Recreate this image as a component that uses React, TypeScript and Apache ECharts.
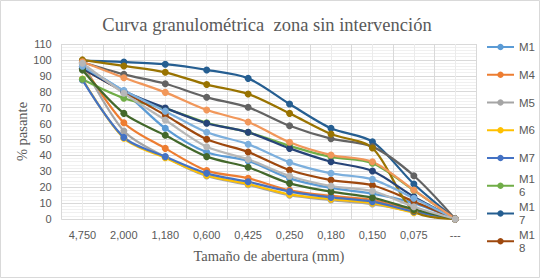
import React, { useEffect, useRef } from "react";
import * as echarts from "echarts";

const categories = ["4,750", "2,000", "1,180", "0,600", "0,425", "0,250", "0,180", "0,150", "0,075", "---"];

const seriesNames = ["M1", "M4", "M5", "M6", "M7", "M16", "M17", "M18", "M19", "M20", "M21", "M22", "M23", "M24", "M25"];
const legendNames = ["M1", "M4", "M5", "M6", "M7", "M16", "M17", "M18"];
const seriesColors = [
  "#5B9BD5", "#ED7D31", "#A5A5A5", "#FFC000", "#4472C4", "#70AD47", "#255E91", "#9E480E",
  "#636363", "#997300", "#264478", "#43682B", "#7CAFDD", "#F1975A", "#B7B7B7",
];

const m1 = [96, 80, 57, 42, 36.5, 25.5, 19.5, 16, 10, 0];
const m4 = [97, 60.5, 44.4, 30.4, 25.6, 18, 14.5, 12, 5, 0];
const m5 = [97.5, 55.3, 39, 27, 21.5, 15, 11.9, 9.4, 4.5, 0];
const m6 = [88, 50.8, 38.5, 27.5, 22, 15.5, 12.5, 10, 4, 0];
const m7 = [87.4, 51.3, 39.2, 28.7, 23.4, 17.2, 13.6, 10.9, 4.6, 0];
const m16 = [87.8, 75.9, 69.5, 60.5, 54.5, 46, 39, 35, 18, 0];
const m17 = [99.5, 98.7, 97.3, 93.7, 88.4, 72.3, 57, 48.6, 22, 0];
const m18 = [94.5, 80, 65.3, 50.1, 42.1, 30.8, 24.5, 21.2, 11, 0];
const m19 = [98.5, 90.9, 85, 76.5, 70.2, 58.6, 50.5, 45.5, 27.2, 0];
const m20 = [100, 96.2, 92.2, 84.5, 78.6, 66.4, 53.4, 44.6, 5, 0];
const m21 = [94.8, 80.5, 69.8, 60.2, 54.5, 44.4, 36, 30.2, 14, 0];
const m22 = [93.6, 66.4, 52.6, 39.2, 32.5, 22.4, 17.2, 13.4, 6, 0];
const m23 = [96, 80.7, 67.8, 54.5, 47, 35.6, 28.7, 24.9, 13, 0];
const m24 = [98.8, 88.8, 79.6, 68.5, 61, 48.2, 40.2, 36, 18.2, 0];
const m25 = [97.9, 79, 62.2, 45.4, 37.5, 27, 20.7, 17.6, 7.7, 0];

const seriesValues = [m1, m4, m5, m6, m7, m16, m17, m18, m19, m20, m21, m22, m23, m24, m25];

const TEXT = "#595959";
const SANS = "Liberation Sans";
const SERIF = "Liberation Serif";

export default function App() {
  const ref = useRef<HTMLDivElement>(null);
  useEffect(() => {
    document.body.style.margin = "0";
    const chart = echarts.init(ref.current!, null, { renderer: "svg" });

    const legends = legendNames.map((name, i) => {
      const wrapped = name.length > 2;
      const c = 47 + i * 27.75;
      return {
        data: [name],
        orient: "vertical",
        left: 486,
        top: wrapped ? c - 19.5 : c - 6.5,
        padding: 0,
        itemWidth: 27,
        itemHeight: 8,
        selectedMode: false,
        formatter: (n: string) => (n.length > 2 ? n.slice(0, 2) + "\n" + n.slice(2) : n),
        textStyle: {
          fontFamily: SANS,
          fontSize: 11.5,
          color: TEXT,
          lineHeight: 13,
          padding: wrapped ? [13, 0, 0, 0] : 0,
        },
      };
    });

    chart.setOption({
      animation: false,
      backgroundColor: "#FFFFFF",
      title: {
        text: "Curva granulométrica  zona sin intervención",
        left: 262,
        textAlign: "center",
        top: 10,
        textStyle: { fontFamily: SERIF, fontSize: 18.5, fontWeight: "normal", color: TEXT },
      },
      legend: legends,
      grid: { left: 61.7, right: 64, top: 44, bottom: 59 },
      xAxis: [
        {
          type: "category",
          data: categories,
          boundaryGap: true,
          axisTick: { show: false },
          axisLine: { show: true, lineStyle: { color: "#D9D9D9" } },
          splitLine: { show: false },
          axisLabel: { fontFamily: SANS, fontSize: 11, color: TEXT, margin: 10 },
          name: "Tamaño de abertura (mm)",
          nameLocation: "middle",
          nameGap: 29,
          nameMoveOverlap: false,
          nameTextStyle: { fontFamily: SERIF, fontSize: 14.5, color: TEXT },
        },
        {
          type: "value",
          min: 0,
          max: 20,
          interval: 1,
          position: "top",
          axisLabel: { show: false },
          axisLine: { show: false },
          axisTick: { show: false },
          splitLine: { show: true, lineStyle: { color: ["#D9D9D9", "#EBEBEB"] } },
        },
      ],
      yAxis: {
        type: "value",
        min: 0,
        max: 110,
        interval: 10,
        axisLine: { show: false },
        axisTick: { show: false },
        axisLabel: { fontFamily: SANS, fontSize: 11, color: TEXT, margin: 10 },
        splitLine: { show: true, lineStyle: { color: "#D9D9D9" } },
        minorTick: { show: false, splitNumber: 5 },
        minorSplitLine: { show: true, lineStyle: { color: "#F0F0F0" } },
        name: "% pasante",
        nameLocation: "middle",
        nameGap: 32,
        nameMoveOverlap: false,
        nameTextStyle: { fontFamily: SERIF, fontSize: 14.5, color: TEXT },
      },
      graphic: [
        {
          type: "rect",
          shape: { x: 0.5, y: 0.5, width: 539, height: 277 },
          style: { fill: "none", stroke: "#D9D9D9", lineWidth: 1 },
          silent: true,
        },
      ],
      series: seriesNames.map((name, i) => ({
        name,
        type: "line",
        xAxisIndex: 0,
        yAxisIndex: 0,
        data: seriesValues[i],
        smooth: 0.3,
        symbol: "circle",
        symbolSize: 7,
        lineStyle: { width: 2.25, color: seriesColors[i] },
        itemStyle: { color: seriesColors[i] },
        emphasis: { disabled: true },
      })),
    });
    return () => chart.dispose();
  }, []);
  return <div ref={ref} style={{ position: "absolute", left: 0, top: 0, width: 540, height: 278 }} />;
}
